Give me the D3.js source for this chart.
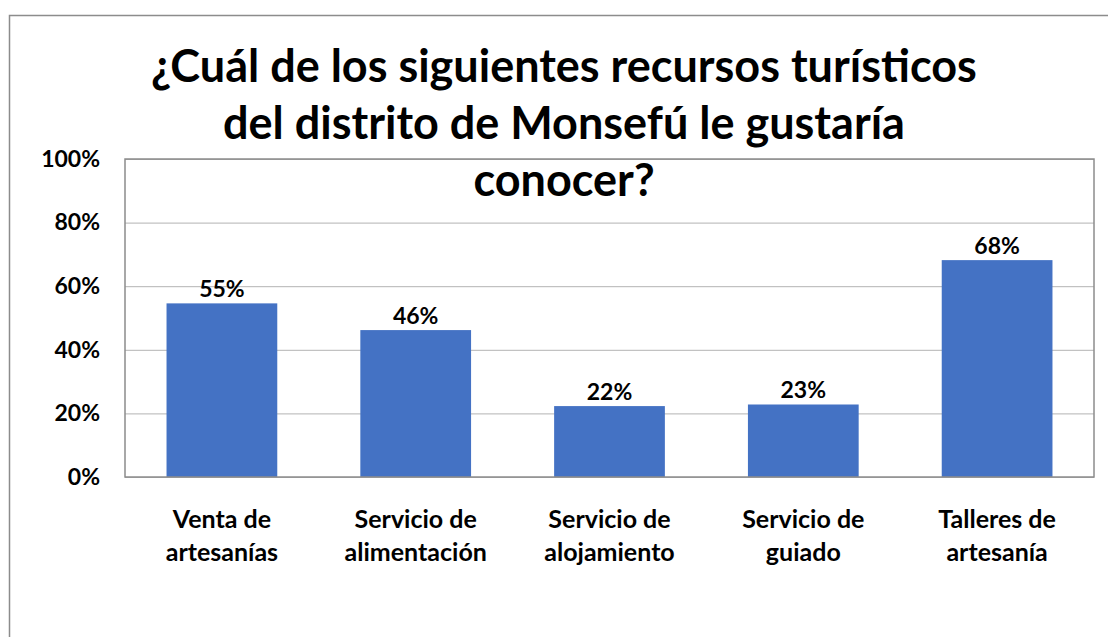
<!DOCTYPE html>
<html lang="es">
<head>
  <meta charset="UTF-8">
  <title>Recursos turísticos de Monsefú</title>
  <script src="https://d3js.org/d3.v7.min.js"></script>
  <style>
    html, body { margin: 0; padding: 0; background: #fff; }
    svg { display: block; font-family: Lato, "Noto Sans", sans-serif; font-weight: bold; }
  </style>
</head>
<body>
<div id="chart"></div>
<script>
// datos
var categories = ["Venta de artesanías", "Servicio de alimentación", "Servicio de alojamiento", "Servicio de guiado", "Talleres de artesanía"];
var labelLines = [["Venta de", "artesanías"], ["Servicio de", "alimentación"], ["Servicio de", "alojamiento"], ["Servicio de", "guiado"], ["Talleres de", "artesanía"]];
var values = [0.546, 0.462, 0.223, 0.228, 0.682];
var yTicks = [0, 0.2, 0.4, 0.6, 0.8, 1];
var titleLines = ["¿Cuál de los siguientes recursos turísticos", "del distrito de Monsefú le gustaría", "conocer?"];

var width = 1108, height = 637;
var plot = { left: 125, right: 1094, top: 159, bottom: 477 };

var svg = d3.select("#chart").append("svg")
  .attr("width", width)
  .attr("height", height);

// marco exterior del grafico (sale por la derecha y por abajo)
svg.append("rect")
  .attr("x", 9.5).attr("y", 15.5)
  .attr("width", 1200).attr("height", 700)
  .attr("fill", "#fff")
  .attr("stroke", "#8c8c8c")
  .attr("stroke-width", 1.5);

var x = d3.scaleBand()
  .domain(categories)
  .range([plot.left, plot.right])
  .paddingInner(0.75 / 1.75)
  .paddingOuter(0.375 / 1.75);

var y = d3.scaleLinear()
  .domain([0, 1])
  .range([plot.bottom, plot.top]);

// lineas de cuadricula
svg.append("g")
  .attr("class", "grid")
  .attr("transform", "translate(" + plot.left + ",0)")
  .call(d3.axisLeft(y).tickValues(yTicks).tickSize(-(plot.right - plot.left)).tickFormat(""))
  .call(function(g){
    g.select(".domain").remove();
    g.selectAll("line").attr("stroke", "#b3b3b3").attr("stroke-width", 1);
  });

// barras
svg.append("g").selectAll("rect")
  .data(values)
  .enter().append("rect")
  .attr("x", function(d, i){ return x(categories[i]); })
  .attr("y", function(d){ return y(d); })
  .attr("width", x.bandwidth())
  .attr("height", function(d){ return y(0) - y(d); })
  .attr("fill", "#4472c4");

// borde del area de trazado
svg.append("rect")
  .attr("x", plot.left).attr("y", plot.top)
  .attr("width", plot.right - plot.left)
  .attr("height", plot.bottom - plot.top)
  .attr("fill", "none")
  .attr("stroke", "#8c8c8c")
  .attr("stroke-width", 1.5);

// etiquetas de datos
svg.append("g").selectAll("text")
  .data(values)
  .enter().append("text")
  .attr("x", function(d, i){ return x(categories[i]) + x.bandwidth() / 2; })
  .attr("y", function(d){ return y(d) - 6; })
  .attr("text-anchor", "middle")
  .attr("font-size", 23)
  .attr("fill", "#000")
  .text(function(d){ return Math.round(d * 100) + "%"; });

// eje Y
svg.append("g")
  .attr("transform", "translate(" + plot.left + ",0)")
  .call(d3.axisLeft(y).tickValues(yTicks).tickSize(0).tickPadding(25).tickFormat(d3.format(".0%")))
  .call(function(g){
    g.select(".domain").remove();
    g.selectAll("text")
      .attr("font-family", "Lato, sans-serif")
      .attr("font-weight", "bold")
      .attr("font-size", 23)
      .attr("fill", "#000");
  });

// eje X con etiquetas en dos lineas
svg.append("g")
  .attr("transform", "translate(0," + plot.bottom + ")")
  .call(d3.axisBottom(x).tickSize(0).tickFormat(""))
  .call(function(g){
    g.select(".domain").remove();
    g.selectAll(".tick text").remove();
    g.selectAll(".tick").each(function(d, i){
      var t = d3.select(this).append("text")
        .attr("text-anchor", "middle")
        .attr("font-family", "Lato, sans-serif")
        .attr("font-weight", "bold")
        .attr("font-size", 25)
        .attr("fill", "#000");
      labelLines[i].forEach(function(line, k){
        t.append("tspan").attr("x", 0).attr("y", 51 + k * 33).text(line);
      });
    });
  });

// titulo
svg.append("text")
  .attr("text-anchor", "middle")
  .attr("font-size", 45)
  .attr("fill", "#000")
  .selectAll("tspan")
  .data(titleLines)
  .enter().append("tspan")
  .attr("x", 564)
  .attr("y", function(d, i){ return [82, 139, 196][i]; })
  .text(function(d){ return d; });
</script>
</body>
</html>
